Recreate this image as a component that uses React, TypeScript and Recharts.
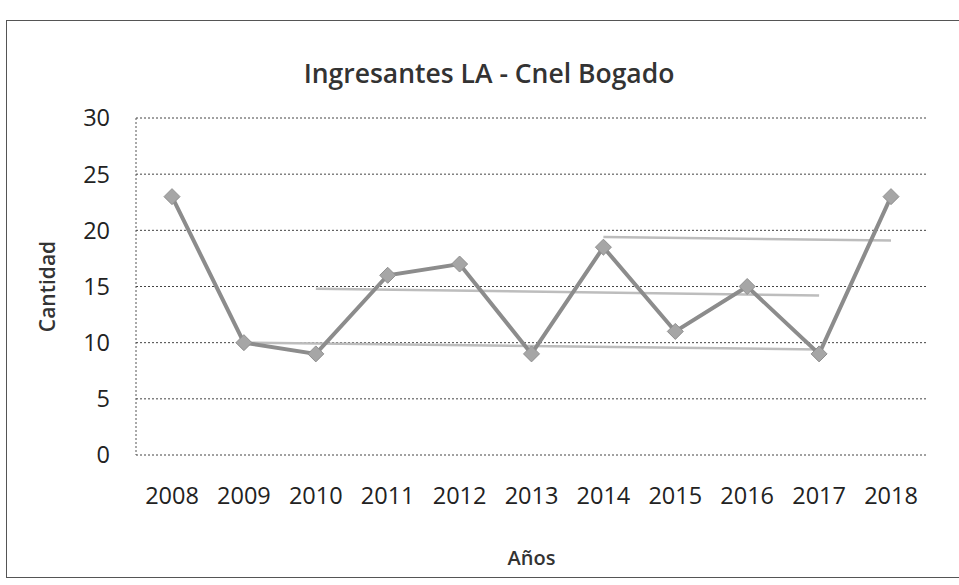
import { LineChart, Line, XAxis, YAxis, CartesianGrid } from 'recharts'

const years = ['2008', '2009', '2010', '2011', '2012', '2013', '2014', '2015', '2016', '2017', '2018']
const ingresantes = [23, 10, 9, 16, 17, 9, 18.5, 11, 15, 9, 23]
// faint gray guide lines drawn over the scanned chart
const guideHigh = [null, null, null, null, null, null, 19.4, null, null, null, 19.1]
const guideMid = [null, null, 14.8, null, null, null, null, null, null, 14.2, null]
const guideLow = [null, 10, null, null, null, null, null, null, null, 9.4, null]
const yTicks = [0, 5, 10, 15, 20, 25, 30]

const data = years.map((year, i) => ({
  year,
  value: ingresantes[i],
  high: guideHigh[i],
  mid: guideMid[i],
  low: guideLow[i],
}))

const font = '"Open Sans", "Noto Sans", sans-serif'

const Diamond = (props: any) => {
  const { cx, cy } = props
  if (cx == null || cy == null) return null
  const r = 8
  return (
    <path
      d={`M${cx},${cy - r} L${cx + r},${cy} L${cx},${cy + r} L${cx - r},${cy} Z`}
      fill="#a6a6a6"
      stroke="#8f8f8f"
      strokeWidth={1}
    />
  )
}

export default function App() {
  return (
    <div
      style={{
        position: 'absolute',
        left: 0,
        top: 0,
        width: 959,
        height: 585,
        background: '#fff',
        fontFamily: font,
      }}
    >
      <div
        style={{
          position: 'absolute',
          left: 6,
          top: 20,
          width: 960,
          height: 556,
          borderLeft: '1.5px solid #555',
          borderTop: '1.5px solid #555',
          borderBottom: '1.5px solid #555',
        }}
      />
      <div
        style={{
          position: 'absolute',
          left: 0,
          top: 55,
          width: 978,
          textAlign: 'center',
          fontSize: 26.5,
          fontWeight: 600,
          color: '#333',
        }}
      >
        Ingresantes LA - Cnel Bogado
      </div>
      <LineChart
        width={959}
        height={585}
        data={data}
        margin={{ top: 118, right: 32, bottom: 0, left: 0 }}
        style={{ position: 'absolute', left: 0, top: 0 }}
      >
        <CartesianGrid
          vertical={false}
          stroke="#444"
          strokeDasharray="2 2"
          strokeWidth={1}
        />
        <XAxis
          dataKey="year"
          axisLine={false}
          tickLine={false}
          tickSize={0}
          tickMargin={32}
          height={130}
          padding={{ left: 36, right: 36 }}
          tick={{ fontSize: 23.5, fill: '#222', fontFamily: font }}
          interval={0}
          label={{
            value: 'Años',
            position: 'insideBottom',
            offset: 20,
            style: { fontSize: 20, fill: '#333', fontWeight: 600, fontFamily: font },
          }}
        />
        <YAxis
          width={136}
          domain={[0, 30]}
          ticks={yTicks}
          interval={0}
          axisLine={{ stroke: '#555', strokeDasharray: '2 2' }}
          tickLine={false}
          tickSize={0}
          tickMargin={26}
          tick={{ fontSize: 23.5, fill: '#222', fontFamily: font }}
          label={{
            value: 'Cantidad',
            angle: -90,
            position: 'insideLeft',
            offset: 48,
            style: { fontSize: 21, fill: '#333', fontWeight: 600, textAnchor: 'middle', fontFamily: font },
          }}
        />
        <Line dataKey="high" stroke="#bdbdbd" strokeWidth={2.5} dot={false} connectNulls isAnimationActive={false} />
        <Line dataKey="mid" stroke="#bdbdbd" strokeWidth={2.5} dot={false} connectNulls isAnimationActive={false} />
        <Line dataKey="low" stroke="#bdbdbd" strokeWidth={2.5} dot={false} connectNulls isAnimationActive={false} />
        <Line
          dataKey="value"
          stroke="#8c8c8c"
          strokeWidth={4}
          dot={<Diamond />}
          activeDot={false}
          isAnimationActive={false}
        />
      </LineChart>
    </div>
  )
}
